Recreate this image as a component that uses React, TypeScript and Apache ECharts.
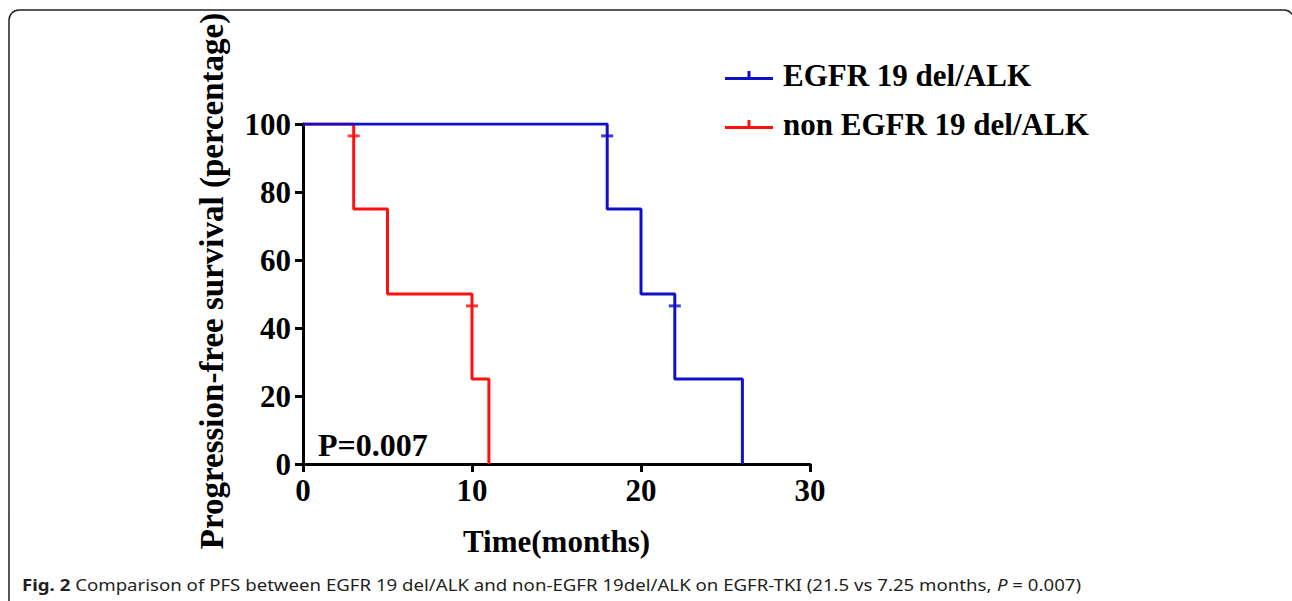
import React, { useEffect, useRef } from "react";
import * as echarts from "echarts";

const seriesNames = ["EGFR 19 del/ALK", "non EGFR 19 del/ALK"];
// Kaplan-Meier step points [months, % progression-free]
const egfrCurve: [number, number][] = [
  [0, 100], [18, 100], [18, 75], [20, 75], [20, 50], [22, 50], [22, 25], [26, 25], [26, 0],
];
const nonEgfrCurve: [number, number][] = [
  [0, 100], [3, 100], [3, 75], [5, 75], [5, 50], [10, 50], [10, 25], [11, 25], [11, 0],
];
// censor marks
const egfrCensor: [number, number][] = [[18, 96.5], [22, 46.5]];
const nonEgfrCensor: [number, number][] = [[3, 96.5], [10, 46.5]];
const colors = ["#1010c8", "#ff1010"];
const yTitle = "Progression-free survival (percentage)";
const xTitle = "Time(months)";
const pText = "P=0.007";
const caption =
  "{b|Fig. 2} Comparison of PFS between EGFR 19 del/ALK and non-EGFR 19del/ALK on EGFR-TKI (21.5 vs 7.25 months, {i|P} = 0.007)";

const SERIF = "'Liberation Serif', 'Times New Roman', serif";
const SANS = "'Noto Sans', sans-serif";

export default function App() {
  const ref = useRef<HTMLDivElement>(null);
  useEffect(() => {
    document.body.style.margin = "0";
    const chart = echarts.init(ref.current!, null, { renderer: "svg" });
    const legendIcon = "path://M0,9 L48,9 L48,12 L0,12 Z M22.5,3 L25.5,3 L25.5,12 L22.5,12 Z";
    chart.setOption({
      animation: false,
      backgroundColor: "#ffffff",
      grid: { left: 303, top: 124, right: 482, bottom: 137 },
      legend: {
        orient: "vertical",
        left: 720,
        top: 55,
        itemWidth: 48,
        itemHeight: 12,
        itemGap: 18,
        icon: legendIcon,
        data: seriesNames,
        textStyle: { fontFamily: SERIF, fontWeight: "bold", fontSize: 31, color: "#000", padding: [0, 0, 0, 5] },
      },
      xAxis: {
        type: "value",
        min: 0,
        max: 30,
        interval: 10,
        name: xTitle,
        nameLocation: "middle",
        nameGap: 62,
        nameTextStyle: { fontFamily: SERIF, fontWeight: "bold", fontSize: 31, color: "#000" },
        splitLine: { show: false },
        axisLine: { lineStyle: { color: "#000", width: 3 } },
        axisTick: { length: 8, lineStyle: { color: "#000", width: 3 } },
        axisLabel: { fontFamily: SERIF, fontWeight: "bold", fontSize: 31, color: "#000", margin: 11 },
      },
      yAxis: {
        type: "value",
        min: 0,
        max: 100,
        interval: 20,
        splitLine: { show: false },
        axisLine: { show: true, lineStyle: { color: "#000", width: 3 } },
        axisTick: { show: true, length: 8, lineStyle: { color: "#000", width: 3 } },
        axisLabel: { fontFamily: SERIF, fontWeight: "bold", fontSize: 31, color: "#000", margin: 12 },
      },
      series: [
        {
          name: seriesNames[1],
          type: "line",
          data: nonEgfrCurve,
          symbol: "none",
          color: colors[1],
          lineStyle: { width: 3, color: colors[1] },
          z: 2,
        },
        {
          name: seriesNames[0],
          type: "line",
          data: egfrCurve,
          symbol: "none",
          color: colors[0],
          lineStyle: { width: 3, color: colors[0] },
          z: 3,
        },
        {
          name: seriesNames[1] + " censored",
          type: "scatter",
          data: nonEgfrCensor,
          symbol: "rect",
          symbolSize: [12, 3],
          itemStyle: { color: colors[1] },
          z: 4,
        },
        {
          name: seriesNames[0] + " censored",
          type: "scatter",
          data: egfrCensor,
          symbol: "rect",
          symbolSize: [12, 3],
          itemStyle: { color: colors[0] },
          z: 4,
        },
      ],
      graphic: [
        {
          type: "rect",
          shape: { x: 9, y: 10, width: 1285, height: 700, r: 10 },
          style: { fill: "none", stroke: "#222", lineWidth: 1.5 },
          silent: true,
        },
        {
          type: "text",
          x: 212,
          y: 281,
          rotation: Math.PI / 2,
          style: {
            text: yTitle,
            fontFamily: SERIF,
            fontWeight: "bold",
            fontSize: 33,
            fill: "#000",
            align: "center",
            verticalAlign: "middle",
          },
        },
        {
          type: "text",
          x: 318,
          y: 445,
          style: {
            text: pText,
            fontFamily: SERIF,
            fontWeight: "bold",
            fontSize: 32,
            fill: "#000",
            align: "left",
            verticalAlign: "middle",
          },
        },
        {
          type: "text",
          x: 22,
          y: 584,
          scaleX: 1.13,
          style: {
            text: caption,
            fontFamily: SANS,
            fontSize: 16.5,
            fill: "#231f20",
            align: "left",
            verticalAlign: "middle",
            rich: {
              b: { fontFamily: SANS, fontSize: 16.5, fontWeight: "bold", fill: "#231f20" },
              i: { fontFamily: SANS, fontSize: 16.5, fontStyle: "italic", fill: "#231f20" },
            },
          },
        },
      ],
    });
    return () => chart.dispose();
  }, []);
  return <div ref={ref} style={{ width: 1292, height: 601 }} />;
}
